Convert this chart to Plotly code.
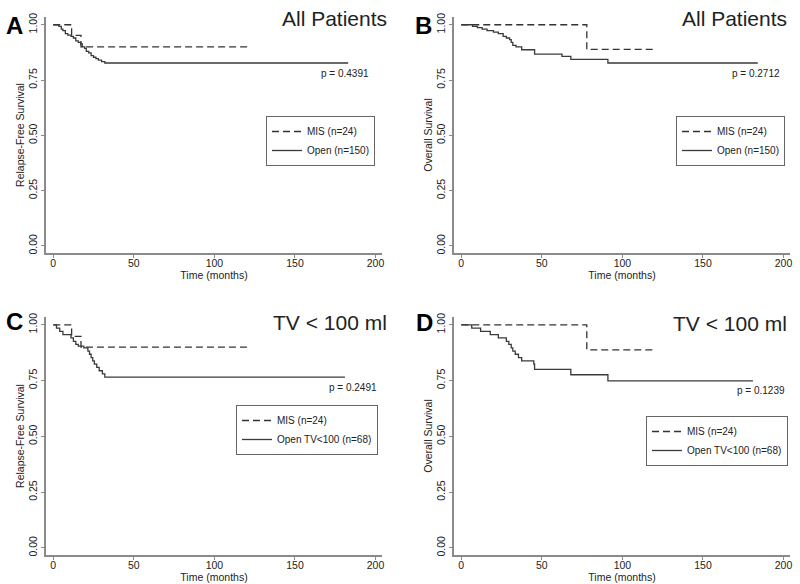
import plotly.graph_objects as go

# Kaplan-Meier step data
# Panel A: relapse-free survival, all patients
a_mis_t = [0, 11.4, 17.2, 121]
a_mis_s = [1.0, 0.952, 0.90, 0.90]
a_open_t = [0, 3.5, 5, 6, 7.5, 9, 11, 12.5, 14, 15.5, 17, 18, 19.5, 20.5, 22, 23.5, 25, 26.5, 28, 30, 32, 183]
a_open_s = [1.0, 0.993, 0.98, 0.973, 0.96, 0.953, 0.947, 0.94, 0.927, 0.92, 0.913, 0.90, 0.893, 0.88,
            0.873, 0.86, 0.853, 0.847, 0.84, 0.833, 0.827, 0.827]

# Panel B: overall survival, all patients
b_mis_t = [0, 77.9, 121]
b_mis_s = [1.0, 0.889, 0.889]
b_open_t = [0, 7, 10, 13, 16, 20, 23, 26, 28, 30, 31, 32, 34, 37.5, 45.5, 62.5, 68, 91, 184]
b_open_s = [1.0, 0.993, 0.987, 0.98, 0.973, 0.967, 0.96, 0.947, 0.94, 0.933, 0.92, 0.907, 0.90,
            0.887, 0.867, 0.857, 0.843, 0.827, 0.827]

# Panel C: relapse-free survival, TV < 100 ml
c_mis_t = [0, 11.4, 17.2, 121]
c_mis_s = [1.0, 0.948, 0.90, 0.90]
c_open_t = [0, 2, 4, 6, 11, 12.5, 14, 15.5, 19, 21.5, 22.5, 23.5, 24.5, 25.5, 27, 28.5, 30.5, 32, 181]
c_open_s = [1.0, 0.985, 0.971, 0.956, 0.941, 0.926, 0.912, 0.904, 0.897, 0.882, 0.868, 0.853,
            0.838, 0.824, 0.809, 0.794, 0.78, 0.765, 0.765]

# Panel D: overall survival, TV < 100 ml
d_mis_t = [0, 77.9, 121]
d_mis_s = [1.0, 0.888, 0.888]
d_open_t = [0, 6.5, 12, 18, 23, 28, 29.5, 31, 32, 33.5, 35.5, 37.5, 45, 45.5, 68, 91, 181]
d_open_s = [1.0, 0.985, 0.971, 0.956, 0.941, 0.926, 0.912, 0.897, 0.882, 0.868, 0.853, 0.838,
            0.824, 0.80, 0.776, 0.749, 0.749]

panels = [
    dict(letter="A", title="All Patients", ylab="Relapse-Free Survival", p="p = 0.4391",
         mis=(a_mis_t, a_mis_s), open=(a_open_t, a_open_s), open_name="Open (n=150)"),
    dict(letter="B", title="All Patients", ylab="Overall Survival", p="p = 0.2712",
         mis=(b_mis_t, b_mis_s), open=(b_open_t, b_open_s), open_name="Open (n=150)"),
    dict(letter="C", title="TV < 100 ml", ylab="Relapse-Free Survival", p="p = 0.2491",
         mis=(c_mis_t, c_mis_s), open=(c_open_t, c_open_s), open_name="Open TV<100 (n=68)"),
    dict(letter="D", title="TV < 100 ml", ylab="Overall Survival", p="p = 0.1239",
         mis=(d_mis_t, d_mis_s), open=(d_open_t, d_open_s), open_name="Open TV<100 (n=68)"),
]

W, H = 800, 584
# plot boxes in pixels: (left, right, top, bottom)
boxes = [(46, 382, 17, 253), (454, 790, 17, 253), (46, 382, 317, 555), (454, 790, 317, 555)]
# legend top-right corners in pixels
leg_pos = [(375, 116), (785, 116), (378, 405), (788, 416)]
# p-value text right edge / vertical centre
p_pos = [(371, 73), (782, 73), (379, 387), (787, 390)]
letter_pos = [(14, 25), (423, 25), (14, 321), (424, 322)]
title_pos = [(389, 18), (789, 18), (389, 322), (789, 323)]

FONT = "Liberation Sans, Arial, sans-serif"
AXC = "#8a8a8a"
TXT = "#222222"

fig = go.Figure()
layout = dict(width=W, height=H, margin=dict(l=0, r=0, t=0, b=0),
              paper_bgcolor="white", plot_bgcolor="white",
              font=dict(family=FONT, color=TXT, size=11))
annotations = []

for i, pn in enumerate(panels):
    k = "" if i == 0 else str(i + 1)
    l, r, t, b = boxes[i]
    leg = "legend" if i == 0 else "legend" + str(i + 1)

    fig.add_trace(go.Scatter(x=pn["mis"][0], y=pn["mis"][1], mode="lines", line_shape="hv",
                             line=dict(color="#333333", width=1.3, dash="7px,4px"),
                             name="MIS (n=24)", xaxis="x" + k, yaxis="y" + k, legend=leg))
    fig.add_trace(go.Scatter(x=pn["open"][0], y=pn["open"][1], mode="lines", line_shape="hv",
                             line=dict(color="#3a3a3a", width=1.3),
                             name=pn["open_name"], xaxis="x" + k, yaxis="y" + k, legend=leg))

    layout["xaxis" + k] = dict(domain=[l / W, r / W], anchor="y" + k, range=[-4.5, 204],
                               tickvals=[0, 50, 100, 150, 200], ticks="outside", ticklen=3,
                               tickcolor=AXC, showline=True, linecolor=AXC, linewidth=1.5,
                               showgrid=False, zeroline=False, tickfont=dict(size=10.5),
                               ticklabelstandoff=-3,
                               title=dict(text="Time (months)", standoff=0, font=dict(size=10.5)),
                               automargin=False)
    layout["yaxis" + k] = dict(domain=[1 - b / H, 1 - t / H], anchor="x" + k, range=[-0.032, 1.035],
                               tickvals=[0, 0.25, 0.5, 0.75, 1], tickformat=".2f", tickangle=-90,
                               ticks="outside", ticklen=3, tickcolor=AXC, showline=True,
                               linecolor=AXC, linewidth=1.5, showgrid=False, zeroline=False,
                               tickfont=dict(size=10.5),
                               title=dict(text=pn["ylab"], standoff=0, font=dict(size=10.5)),
                               automargin=False)

    lx, ly = leg_pos[i]
    layout[leg] = dict(x=lx / W, y=1 - ly / H, xanchor="right", yanchor="top",
                       bgcolor="white", bordercolor="#666666", borderwidth=1,
                       font=dict(size=10, color=TXT), tracegroupgap=0, itemwidth=30)

    px_, py_ = p_pos[i]
    annotations.append(dict(x=px_ / W, y=1 - py_ / H, xref="paper", yref="paper", text=pn["p"],
                            showarrow=False, xanchor="right", yanchor="middle",
                            font=dict(size=10, color=TXT)))
    tx, ty = title_pos[i]
    annotations.append(dict(x=tx / W, y=1 - ty / H, xref="paper", yref="paper", text=pn["title"],
                            showarrow=False, xanchor="right", yanchor="middle",
                            font=dict(size=21, color=TXT)))
    gx, gy = letter_pos[i]
    annotations.append(dict(x=gx / W, y=1 - gy / H, xref="paper", yref="paper",
                            text="<b>" + pn["letter"] + "</b>", showarrow=False,
                            xanchor="center", yanchor="middle",
                            font=dict(size=24, color="black")))

layout["annotations"] = annotations
layout["showlegend"] = True
fig.update_layout(**layout)

fig.write_html("out.html", config={"displayModeBar": False},
               post_script="document.body.style.margin='0';document.body.style.padding='0';"
                           "document.body.style.overflow='hidden';")
